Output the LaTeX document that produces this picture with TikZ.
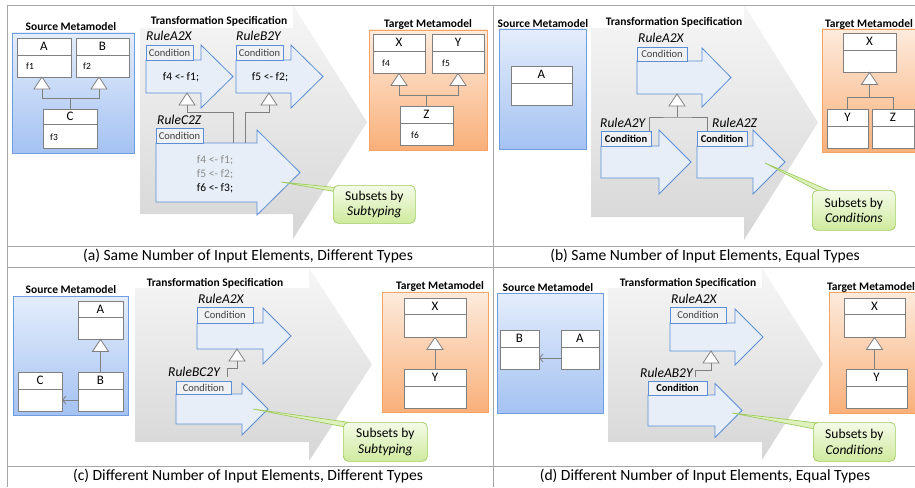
\documentclass[tikz,border=0pt]{standalone}
\usepackage{fontspec}
\setmainfont{Carlito}
\usetikzlibrary{calc,fit,arrows.meta}
\definecolor{frameC}{HTML}{A6A6A6}
\definecolor{chevT}{HTML}{F6F6F6}
\definecolor{chevB}{HTML}{D6D6D6}
\definecolor{ruleF}{HTML}{E7EEF8}
\definecolor{ruleD}{HTML}{5B8ED6}
\definecolor{tabF}{HTML}{F0F1F3}
\definecolor{condT}{HTML}{404040}
\definecolor{clsD}{HTML}{7F7F7F}
\definecolor{srcT}{HTML}{E4EDFB}
\definecolor{srcBt}{HTML}{A4C2F2}
\definecolor{srcD}{HTML}{6F9DE0}
\definecolor{tgtT}{HTML}{FDEBDD}
\definecolor{tgtBt}{HTML}{F9B07A}
\definecolor{tgtD}{HTML}{F5A263}
\definecolor{callT}{HTML}{F4FBE8}
\definecolor{callBt}{HTML}{CFEA9E}
\definecolor{callD}{HTML}{9FCB5E}
\definecolor{codeG}{HTML}{8C8C8C}
\newcommand{\fTtl}{\fontsize{11.5}{13}\selectfont\bfseries}
\newcommand{\fRul}{\fontsize{13.5}{15}\selectfont\itshape}
\newcommand{\fCnd}{\fontsize{10.5}{12}\selectfont}
\newcommand{\fCls}{\fontsize{13}{14}\selectfont}
\newcommand{\fFld}{\fontsize{9.5}{11}\selectfont}
\newcommand{\fCod}{\fontsize{11.5}{14}\selectfont}
\newcommand{\fCap}{\fontsize{15.6}{18}\selectfont}
\newcommand{\fCal}{\fontsize{13.5}{15.5}\selectfont}
% chevron: xl, xb, xt, yst, ysb, yht, yhb
\newcommand{\chev}[7]{%
  \shade[top color=chevT, bottom color=chevB] (#1,#4) -- (#2,#4) -- (#2,#6) -- (#3,{(#6+#7)/2}) -- (#2,#7) -- (#2,#5) -- (#1,#5) -- cycle;}
% rule arrow: name, xl, xtab, xb, xt, ytab, ytop, ybot, hext
\newcommand{\rulearr}[9]{%
  \draw[rulebody] (#2,#7) -- (#4,#7) -- (#4,#7-#9) -- (#5,{(#7+#8)/2}) -- (#4,#8+#9) -- (#4,#8) -- (#2,#8) -- cycle;
  \draw[ruletab] (#2,#6) rectangle (#3,#7);
  \coordinate (#1) at ({(#2+#3)/2},{(#6+#7)/2});}
% uml class: name, x1, y1, x2, ydiv, y2, label
\newcommand{\umlclass}[7]{%
  \coordinate (#1-nw) at (#2,#3);
  \coordinate (#1-se) at (#4,#6);
  \node[umlc, fit=(#1-nw)(#1-se)] (#1) {};
  \draw[umlline] (#2,#5) -- (#4,#5);
  \node[clsname] (#1-name) at ({(#2+#4)/2},{(#3+#5)/2}) {#7};}
% generalisation triangle: name, apex
\newcommand{\gentri}[2]{%
  \draw[tri] (#2) -- ++(8,12) -- ++(-16,0) -- cycle;
  \coordinate (#1) at ($(#2)+(0,12)$);}
\begin{document}
\begin{tikzpicture}[x=1pt,y=-1pt,
  frameline/.style={draw=frameC, line width=0.8pt},
  rulebody/.style={draw=ruleD, fill=ruleF, line width=0.8pt, line join=miter},
  ruletab/.style={draw=ruleD, fill=tabF, line width=0.8pt},
  condtxt/.style={font=\fCnd, text=condT, inner sep=0pt},
  condbtxt/.style={font=\fCnd\bfseries, text=black, inner sep=0pt},
  rulelbl/.style={font=\fRul, anchor=west, inner sep=0pt},
  codetxt/.style={font=\fCod, inner sep=0pt, align=center},
  ttltxt/.style={font=\fTtl, inner sep=0pt},
  umlc/.style={draw=clsD, fill=white, inner sep=0pt, line width=0.8pt},
  umlline/.style={draw=clsD, line width=0.8pt},
  clsname/.style={font=\fCls, inner sep=0pt},
  fieldtxt/.style={font=\fFld, anchor=west, inner sep=0pt},
  tri/.style={draw=clsD, fill=white, line width=0.8pt},
  inh/.style={draw=clsD, line width=0.8pt},
  assocline/.style={draw=clsD, line width=0.8pt, -{Straight Barb[length=3.5pt,width=8pt]}},
  srcbox/.style={draw=srcD, top color=srcT, bottom color=srcBt, inner sep=0pt, line width=0.8pt},
  tgtbox/.style={draw=tgtD, top color=tgtT, bottom color=tgtBt, inner sep=0pt, line width=0.8pt},
  callbox/.style={draw=callD, top color=callT, bottom color=callBt, rounded corners=5pt, line width=0.7pt, inner sep=0pt, align=center, font=\fCal, anchor=north west},
  callwedge/.style={draw=callD, fill=callT!40!callBt, line width=0.7pt},
  captxt/.style={font=\fCap, inner sep=0pt}]
\useasboundingbox (0,0) rectangle (915,487);

% ===================== (a) =====================
\chev{140}{293}{367}{28}{214}{5}{239}
\node[ttltxt] (a-ts) at (219,21) {Transformation Specification};
\node[srcbox, fit={(12,33) (134,153)}] (a-src) {};
\node[ttltxt] (a-srct) at (71,27) {Source Metamodel};
\umlclass{aA}{17}{38}{71}{55}{77}{A}
\umlclass{aB}{76}{38}{129}{55}{77}{B}
\umlclass{aC}{43}{109}{97}{124}{148}{C}
\node[fieldtxt] (aA-f) at (26,66) {f1};
\node[fieldtxt] (aB-f) at (83,66) {f2};
\node[fieldtxt] (aC-f) at (50,137) {f3};
\gentri{aTA}{42,77}
\gentri{aTB}{99,77}
\coordinate (aJ) at ($(aC.north)+(0,-10)$);
\draw[inh] (aTA) |- (aJ);
\draw[inh] (aTB) |- (aJ);
\draw[inh] (aJ) -- (aC.north);

\rulearr{aR1}{146}{193}{201}{233}{45}{60}{93}{15}
\node[condtxt] (aR1-c) at (aR1) {Condition};
\node[rulelbl] (aR1-l) at (146,36) {RuleA2X};
\node[codetxt] (aR1-t) at (181,77) {f4 <- f1;};
\rulearr{aR2}{236}{283}{291}{323}{45}{60}{93}{15}
\node[condtxt] (aR2-c) at (aR2) {Condition};
\node[rulelbl] (aR2-l) at (236,36) {RuleB2Y};
\node[codetxt] (aR2-t) at (270,77) {f5 <- f2;};
\rulearr{aR3}{156}{203}{257}{300}{128}{143}{202}{13}
\node[condtxt] (aR3-c) at (aR3) {Condition};
\node[rulelbl] (aR3-l) at (157,120) {RuleC2Z};
\node[codetxt] (aR3-t) at (215,174) {\textcolor{codeG}{f4 <- f1;}\\\textcolor{codeG}{f5 <- f2;}\\f6 <- f3;};
\gentri{aT1}{187,93}
\gentri{aT2}{269,93}
\coordinate (aK1) at (233,143);
\coordinate (aK2) at (245,143);
\draw[inh] (aT1) -- ++(0,7) -| (aK1);
\draw[inh] (aT2) -- ++(0,7) -| (aK2);

\node[tgtbox, fit={(369,30) (487,150)}] (a-tgt) {};
\node[ttltxt] (a-tgtt) at (428,24) {Target Metamodel};
\umlclass{aX}{373}{34}{425}{51}{73}{X}
\umlclass{aY}{432}{34}{484}{51}{73}{Y}
\umlclass{aZ}{400}{106}{453}{123}{145}{Z}
\node[fieldtxt] (aX-f) at (382,63) {f4};
\node[fieldtxt] (aY-f) at (442,63) {f5};
\node[fieldtxt] (aZ-f) at (411,135) {f6};
\gentri{aTX}{aX.south}
\gentri{aTY}{aY.south}
\coordinate (aJ2) at ($(aZ.north)+(0,-10)$);
\draw[inh] (aTX) |- (aJ2);
\draw[inh] (aTY) |- (aJ2);
\draw[inh] (aJ2) -- (aZ.north);

\coordinate (aTip) at (281,182);
\draw[callwedge] (aTip) -- (340,188) -- (340,192.5) -- cycle;
\node[callbox, minimum width=82pt, minimum height=38pt] (aCall) at (333,185) {Subsets by\\\textit{Subtyping}};

% ===================== (b) =====================
\chev{591}{744}{818}{28}{217}{5}{240}
\node[ttltxt] (b-ts) at (674,22) {Transformation Specification};
\node[srcbox, fit={(499,29) (586,149)}] (b-src) {};
\node[ttltxt] (b-srct) at (543,24) {Source Metamodel};
\umlclass{bA}{511}{66}{572}{83}{105}{A}

\rulearr{bR1}{637}{687}{702}{731}{47}{61}{94}{13}
\node[condtxt] (bR1-c) at (bR1) {Condition};
\node[rulelbl] (bR1-l) at (638,38) {RuleA2X};
\rulearr{bR2}{601}{651}{659}{691}{131}{146}{178}{16}
\node[condbtxt] (bR2-c) at (bR2) {Condition};
\node[rulelbl] (bR2-l) at (600,123) {RuleA2Y};
\rulearr{bR3}{697}{747}{753}{785}{131}{146}{178}{16}
\node[condbtxt] (bR3-c) at (bR3) {Condition};
\node[rulelbl] (bR3-l) at (712,123) {RuleA2Z};
\gentri{bT1}{677,94}
\coordinate (bJ1) at (677,117);
\coordinate (bK1) at (649,131);
\coordinate (bK2) at (707,131);
\draw[inh] (bT1) -- (bJ1);
\draw[inh] (bK1) |- (bJ1) -| (bK2);

\node[tgtbox, fit={(822,29) (920,152)}] (b-tgt) {};
\node[ttltxt] (b-tgtt) at (869,24) {Target Metamodel};
\umlclass{bX}{843}{33}{896}{50}{72}{X}
\umlclass{bY}{827}{109}{868}{126}{148}{Y}
\umlclass{bZ}{872}{109}{914}{126}{148}{Z}
\gentri{bTX}{bX.south}
\coordinate (bJ) at ($(bX.south)+(0,25)$);
\draw[inh] (bTX) -- (bJ);
\draw[inh] (bY.north) |- (bJ);
\draw[inh] (bZ.north) |- (bJ);

\coordinate (bTip) at (765,163);
\draw[callwedge] (bTip) -- (822,193) -- (835,193) -- cycle;
\node[callbox, minimum width=83pt, minimum height=40pt] (bCall) at (812,190) {Subsets by\\\textit{Conditions}};

% ===================== (c) =====================
\chev{135}{309}{372}{288}{442}{268}{461}
\node[ttltxt] (c-ts) at (215,283) {Transformation Specification};
\node[srcbox, fit={(13,296) (128,415)}] (c-src) {};
\node[ttltxt] (c-srct) at (71,290) {Source Metamodel};
\umlclass{cA}{78}{301}{123}{317}{339}{A}
\umlclass{cB}{78}{372}{123}{389}{411}{B}
\umlclass{cC}{18}{372}{62}{389}{411}{C}
\gentri{cTA}{cA.south}
\draw[inh] (cTA) -- (cB.north);
\coordinate (cBs) at (78,400);
\coordinate (cCe) at (62,400);
\draw[assocline] (cBs) -- (cCe);

\rulearr{cR1}{197}{253}{263}{291}{307}{323}{349}{15}
\node[condtxt] (cR1-c) at (cR1) {Condition};
\node[rulelbl] (cR1-l) at (198,299) {RuleA2X};
\rulearr{cR2}{176}{231}{242}{268}{381}{394}{424}{11}
\node[condtxt] (cR2-c) at (cR2) {Condition};
\node[rulelbl] (cR2-l) at (168,372) {RuleBC2Y};
\gentri{cT1}{237,349}
\coordinate (cK) at (227,377);
\draw[inh] (cT1) -- ++(0,7) -| (cK);

\node[tgtbox, fit={(382,292) (488,412)}] (c-tgt) {};
\node[ttltxt] (c-tgtt) at (440,286) {Target Metamodel};
\umlclass{cX}{404}{298}{466}{314}{337}{X}
\umlclass{cY}{404}{369}{466}{386}{408}{Y}
\gentri{cTX}{cX.south}
\draw[inh] (cTX) -- (cY.north);

\coordinate (cTip) at (253,409);
\draw[callwedge] (cTip) -- (350,422.5) -- (350,428) -- cycle;
\node[callbox, minimum width=84pt, minimum height=39pt] (cCall) at (343,422) {Subsets by\\\textit{Subtyping}};

% ===================== (d) =====================
\chev{608}{762}{823}{288}{442}{268}{460}
\node[ttltxt] (d-ts) at (688,283) {Transformation Specification};
\node[srcbox, fit={(497,293) (603,413)}] (d-src) {};
\node[ttltxt] (d-srct) at (548,288) {Source Metamodel};
\umlclass{dB}{500}{330}{539}{347}{369}{B}
\umlclass{dA}{561}{330}{599}{347}{369}{A}
\coordinate (dAs) at (561,358);
\coordinate (dBe) at (539,358);
\draw[assocline] (dAs) -- (dBe);

\rulearr{dR1}{670}{726}{735}{763}{307}{323}{351}{14}
\node[condtxt] (dR1-c) at (dR1) {Condition};
\node[rulelbl] (dR1-l) at (671,299) {RuleA2X};
\rulearr{dR2}{648}{707}{715}{742}{381}{395}{426}{11.5}
\node[condbtxt] (dR2-c) at (dR2) {Condition};
\node[rulelbl] (dR2-l) at (640,373) {RuleAB2Y};
\gentri{dT1}{711,351}
\coordinate (dK) at (695,377);
\draw[inh] (dT1) -- ++(0,7) -| (dK);

\node[tgtbox, fit={(829,292) (920,413)}] (d-tgt) {};
\node[ttltxt] (d-tgtt) at (871,287) {Target Metamodel};
\umlclass{dX}{844}{298}{905}{314}{337}{X}
\umlclass{dY}{846}{369}{907}{386}{408}{Y}
\gentri{dTX}{dX.south}
\draw[inh] (dTX) -- (dTX |- dY.north);

\coordinate (dTip) at (732,413);
\draw[callwedge] (dTip) -- (822,423.5) -- (820,430) -- cycle;
\node[callbox, minimum width=82pt, minimum height=39pt] (dCall) at (813,422) {Subsets by\\\textit{Conditions}};

% ===================== frame & captions =====================
\draw[frameline] (7,5) -- (915,5);
\draw[frameline] (7,246) -- (915,246);
\draw[frameline] (7,267) -- (915,267);
\draw[frameline] (7,466) -- (915,466);
\draw[frameline] (7,5) -- (7,487);
\draw[frameline] (493,5) -- (493,487);
\node[captxt] (capA) at (248,256.5) {(a) Same Number of Input Elements, Different Types};
\node[captxt] (capB) at (705,256.5) {(b) Same Number of Input Elements, Equal Types};
\node[captxt] (capC) at (248,476) {(c) Different Number of Input Elements, Different Types};
\node[captxt] (capD) at (705,476) {(d) Different Number of Input Elements, Equal Types};
\end{tikzpicture}
\end{document}
